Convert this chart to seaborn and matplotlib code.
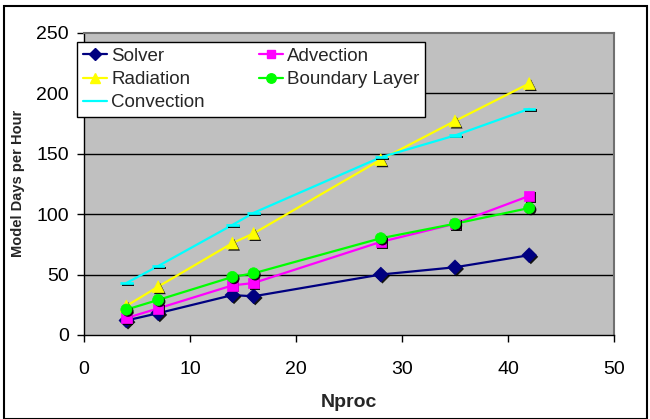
import matplotlib
matplotlib.use("Agg")
import matplotlib.pyplot as plt
import matplotlib.patheffects as pe
from matplotlib.patches import Rectangle
import seaborn as sns
import pandas as pd

nproc = [4, 7, 14, 16, 28, 35, 42]
solver = [12, 18, 33, 32, 50, 56, 66]
advection = [14, 22, 41, 43, 77, 92, 115]
radiation = [24, 40, 76, 84, 145, 177, 208]
boundary_layer = [21, 29, 48, 51, 80, 92, 105]
convection = [43, 57, 91, 101, 147, 165, 187]

series = [
    ("Solver", solver, "#000080", "D", 7.5),
    ("Radiation", radiation, "#FFFF00", "^", 8.5),
    ("Convection", convection, "#00FFFF", [(-1, -0.18), (1, -0.18), (1, 0.18), (-1, 0.18)], 9),
    ("Advection", advection, "#FF00FF", "s", 7.5),
    ("Boundary Layer", boundary_layer, "#00FF00", "o", 8),
]

sns.set_style("ticks")
plt.rcParams["font.family"] = ["Liberation Sans", "DejaVu Sans"]

fig = plt.figure(figsize=(6.5, 4.19), dpi=100)
ax = fig.add_axes([0.1292, 0.2005, 0.8154, 0.7215])
ax.set_facecolor("#C0C0C0")

handles = []
for name, vals, color, marker, ms in series:
    df = pd.DataFrame({"x": nproc, "y": vals})
    sns.lineplot(data=df, x="x", y="y", ax=ax, color=color, linewidth=1.6,
                 marker=None, label=name, legend=False, zorder=3)
    sns.scatterplot(data=df, x="x", y="y", ax=ax, color=color, marker=marker,
                    s=ms ** 2, edgecolor=color, linewidth=0.5, legend=False, zorder=4,
                    path_effects=[pe.SimplePatchShadow(offset=(1.2, -1.2), shadow_rgbFace="black", alpha=0.9), pe.Normal()])
    h, = ax.plot([], [], color=color, linewidth=1.6, marker=marker if name != "Convection" else None,
                 markersize=ms * 0.85, markeredgecolor=color)
    handles.append(h)

ax.set_xlim(0, 50)
ax.set_ylim(0, 250)
ax.set_xticks(range(0, 51, 10))
ax.set_yticks(range(0, 251, 50))
for yv in [50, 100, 150, 200]:
    ax.axhline(yv, color="black", linewidth=1.0, zorder=1)

for s in ["top", "right"]:
    ax.spines[s].set_color("#707070")
    ax.spines[s].set_linewidth(1.5)
for s in ["left", "bottom"]:
    ax.spines[s].set_color("black")
    ax.spines[s].set_linewidth(1.0)

ax.tick_params(axis="both", direction="out", length=5, width=1, labelsize=14, colors="black")
ax.tick_params(axis="x", pad=14)
ax.tick_params(axis="y", pad=6)

ax.set_xlabel("Nproc", fontsize=14, fontweight="bold", labelpad=11)
ax.set_ylabel("Model Days per Hour", fontsize=10.5, fontweight="bold", labelpad=8)

leg = ax.legend(handles, [s[0] for s in series], ncol=2, loc="upper left",
                bbox_to_anchor=(-0.0126, 0.969), borderaxespad=0, fontsize=13.5,
                frameon=True, fancybox=False, edgecolor="black", framealpha=1,
                handlelength=1.3, handletextpad=0.2, labelspacing=0.33,
                columnspacing=2.9, borderpad=0.3)
leg.get_frame().set_linewidth(1.0)
leg.set_zorder(10)

fig.patches.append(Rectangle((0.006, 0.0), 0.99, 0.986, transform=fig.transFigure,
                             fill=False, edgecolor="black", linewidth=1.5))

fig.savefig("out.png", dpi=100)
